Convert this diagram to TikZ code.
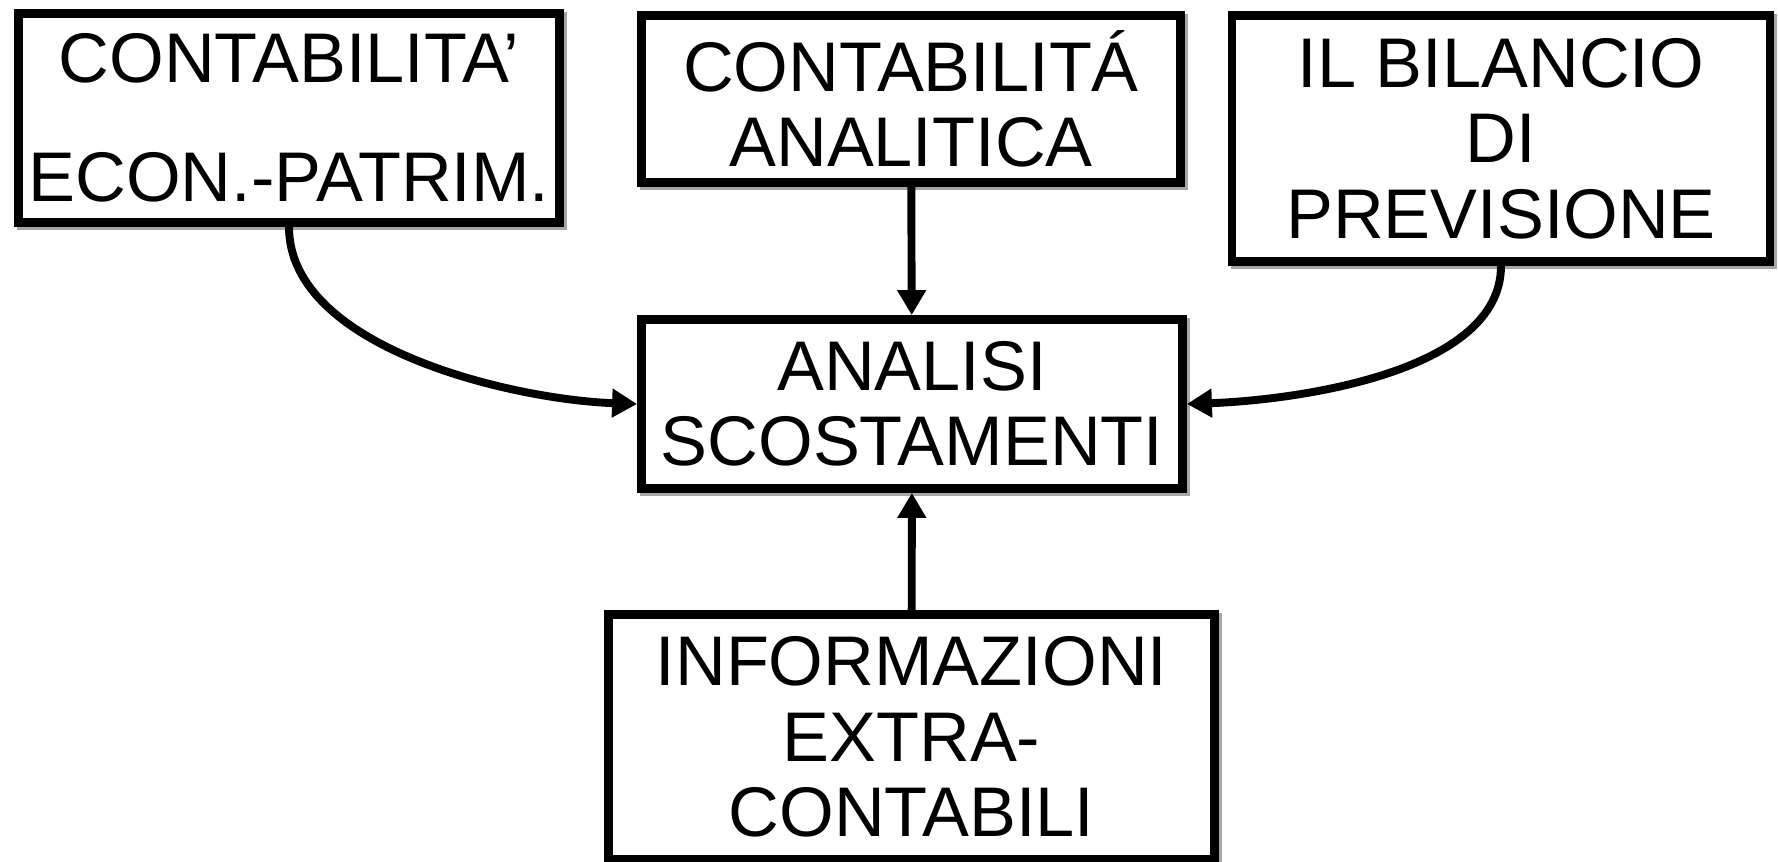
\documentclass[tikz,border=0pt]{standalone}
\usepackage{fontspec}
\setmainfont{Liberation Sans}
\usetikzlibrary{arrows.meta,shadows}

\begin{document}
\begin{tikzpicture}[
  blk/.style={draw, line width=5pt, fill=white, align=center, font=\fontsize{40}{43}\selectfont,
    general shadow={draw=gray!70, line width=5pt, shadow xshift=.06cm, shadow yshift=-.06cm}},
  freccia/.style={line width=4.5pt, -{Triangle[length=.5cm,width=.55cm]}}]
\useasboundingbox (0,0) rectangle (35.56,-17.24);
\node[blk, minimum width=10.82cm, minimum height=4.18cm] (contep) at (5.78,-2.36) {CONTABILITA'\\[25pt]ECON.-PATRIM.};
\node[blk, minimum width=10.78cm, minimum height=3.34cm] (contan) at (18.22,-1.98) {CONTABILITÁ\\ANALITICA};
\node[blk, minimum width=10.76cm, minimum height=4.92cm] (bilprev) at (30.02,-2.77) {IL BILANCIO\\DI\\PREVISIONE};
\node[blk, minimum width=10.82cm, minimum height=3.38cm] (analisi) at (18.24,-8.08) {ANALISI\\SCOSTAMENTI};
\node[blk, minimum width=12.12cm, minimum height=4.9cm] (extra) at (18.23,-14.74) {INFORMAZIONI\\EXTRA-\\CONTABILI};
% collegamenti
\draw[freccia] (contep.south) to[out=-90,in=178,looseness=.8] (analisi.west);
\draw[freccia] (bilprev.south) to[out=-90,in=2,looseness=.8] (analisi.east);
\draw[freccia] (contan) -- (analisi);
\draw[freccia] (extra) -- (analisi);
\end{tikzpicture}
\end{document}
